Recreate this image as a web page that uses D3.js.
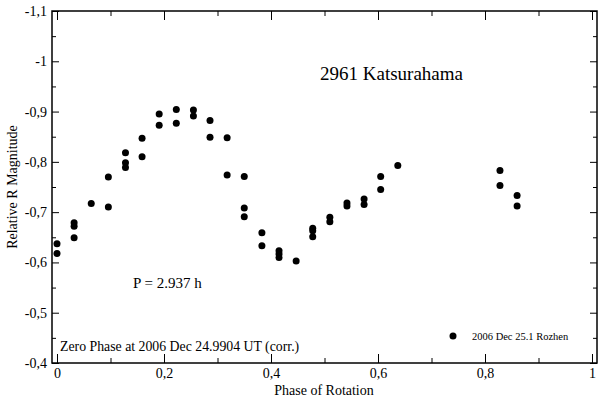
<!DOCTYPE html>
<html>
<head>
<meta charset="utf-8">
<script src="https://cdn.jsdelivr.net/npm/d3@7"></script>
<style>
  body { margin: 0; background: #fff; }
  svg { display: block; font-family: 'Liberation Serif', 'Times New Roman', serif; }
  .axis text { font-size: 14px; fill: #000; font-family: 'Liberation Serif', 'Times New Roman', serif; }
  .axis line { stroke: #000; stroke-width: 1; }
</style>
</head>
<body>
<div id="chart"></div>
<script>
// phase of rotation for each observation
const phases = [
  0, 0,
  0.032, 0.032, 0.032,
  0.064,
  0.096, 0.096,
  0.128, 0.128, 0.128,
  0.159, 0.159,
  0.191, 0.191,
  0.223, 0.223,
  0.255, 0.255,
  0.286, 0.286,
  0.318, 0.318,
  0.350, 0.350, 0.350,
  0.383, 0.383,
  0.415, 0.415, 0.415,
  0.447,
  0.478, 0.478, 0.478,
  0.510, 0.510,
  0.542, 0.542,
  0.574, 0.574,
  0.605, 0.605,
  0.637,
  0.828, 0.828,
  0.860, 0.860
]

// relative R magnitude
const mags = [
  -0.637, -0.618,
  -0.679, -0.672, -0.649,
  -0.717,
  -0.770, -0.710,
  -0.818, -0.798, -0.789,
  -0.847, -0.810,
  -0.895, -0.873,
  -0.904, -0.877,
  -0.903, -0.891,
  -0.882, -0.849,
  -0.848, -0.774,
  -0.771, -0.708, -0.691,
  -0.659, -0.633,
  -0.623, -0.617, -0.610,
  -0.603,
  -0.668, -0.663, -0.651,
  -0.690, -0.681,
  -0.718, -0.712,
  -0.726, -0.715,
  -0.771, -0.745,
  -0.793,
  -0.783, -0.753,
  -0.733, -0.712
]

const xTicks = [0, 0.2, 0.4, 0.6, 0.8, 1]
const xMinor = [0.1, 0.3, 0.5, 0.7, 0.9]
const yTicks = [-1.1, -1, -0.9, -0.8, -0.7, -0.6, -0.5, -0.4]
const yMinor = [-1.05, -0.95, -0.85, -0.75, -0.65, -0.55, -0.45]

const fullWidth = 600
const fullHeight = 398

const frame = { left: 52, right: 597, top: 11, bottom: 363 }

const svg = d3
  .select('#chart')
  .append('svg')
  .attr('width', fullWidth)
  .attr('height', fullHeight)

const xPositionScale = d3.scaleLinear().domain([0, 1]).range([57, 592])
const yPositionScale = d3.scaleLinear().domain([-1.1, -0.4]).range([frame.top, frame.bottom])

// comma decimals, plain hyphen
const fmt = d => (Math.round(d * 10) / 10).toString().replace('.', ',')

// left axis
svg
  .append('g')
  .attr('class', 'axis')
  .attr('transform', 'translate(' + frame.left + ',0)')
  .call(d3.axisLeft(yPositionScale).tickValues(yTicks).tickSize(-7).tickPadding(5).tickFormat(fmt))
svg
  .append('g')
  .attr('class', 'axis')
  .attr('transform', 'translate(' + frame.left + ',0)')
  .call(d3.axisLeft(yPositionScale).tickValues(yMinor).tickSize(-4).tickFormat(''))

// right axis
svg
  .append('g')
  .attr('class', 'axis')
  .attr('transform', 'translate(' + frame.right + ',0)')
  .call(d3.axisRight(yPositionScale).tickValues(yTicks).tickSize(-7).tickFormat(''))
svg
  .append('g')
  .attr('class', 'axis')
  .attr('transform', 'translate(' + frame.right + ',0)')
  .call(d3.axisRight(yPositionScale).tickValues(yMinor).tickSize(-4).tickFormat(''))

// bottom axis
svg
  .append('g')
  .attr('class', 'axis')
  .attr('transform', 'translate(0,' + frame.bottom + ')')
  .call(d3.axisBottom(xPositionScale).tickValues(xTicks).tickSize(-9).tickPadding(5).tickFormat(fmt))
svg
  .append('g')
  .attr('class', 'axis')
  .attr('transform', 'translate(0,' + frame.bottom + ')')
  .call(d3.axisBottom(xPositionScale).tickValues(xMinor).tickSize(-5).tickFormat(''))

// top axis
svg
  .append('g')
  .attr('class', 'axis')
  .attr('transform', 'translate(0,' + frame.top + ')')
  .call(d3.axisTop(xPositionScale).tickValues(xTicks).tickSize(-9).tickFormat(''))
svg
  .append('g')
  .attr('class', 'axis')
  .attr('transform', 'translate(0,' + frame.top + ')')
  .call(d3.axisTop(xPositionScale).tickValues(xMinor).tickSize(-5).tickFormat(''))

svg.selectAll('.axis .domain').remove()

// frame
svg
  .append('rect')
  .attr('x', frame.left)
  .attr('y', frame.top)
  .attr('width', frame.right - frame.left)
  .attr('height', frame.bottom - frame.top)
  .attr('fill', 'none')
  .attr('stroke', '#000')
  .attr('stroke-width', 1.5)

// points
svg
  .selectAll('.pt')
  .data(phases.map((p, i) => ({ phase: p, mag: mags[i] })))
  .enter()
  .append('circle')
  .attr('class', 'pt')
  .attr('cx', d => xPositionScale(d.phase))
  .attr('cy', d => yPositionScale(d.mag))
  .attr('r', 3.5)
  .attr('fill', '#000')

// titles
svg
  .append('text')
  .attr('x', 324)
  .attr('y', 395)
  .attr('text-anchor', 'middle')
  .attr('font-size', 14)
  .text('Phase of Rotation')

svg
  .append('text')
  .attr('transform', 'translate(17,' + (frame.top + frame.bottom) / 2 + ') rotate(-90)')
  .attr('text-anchor', 'middle')
  .attr('font-size', 14)
  .text('Relative R Magnitude')

svg
  .append('text')
  .attr('x', 320)
  .attr('y', 80)
  .attr('font-size', 19)
  .text('2961 Katsurahama')

svg
  .append('text')
  .attr('x', 133)
  .attr('y', 288)
  .attr('font-size', 15)
  .text('P = 2.937 h')

svg
  .append('text')
  .attr('x', 60)
  .attr('y', 351)
  .attr('font-size', 13.8)
  .text('Zero Phase at 2006 Dec 24.9904 UT (corr.)')

// legend
svg
  .append('circle')
  .attr('cx', 453)
  .attr('cy', 336)
  .attr('r', 3.5)
  .attr('fill', '#000')

svg
  .append('text')
  .attr('x', 472)
  .attr('y', 340)
  .attr('font-size', 10.5)
  .text('2006 Dec 25.1 Rozhen')
</script>
</body>
</html>
